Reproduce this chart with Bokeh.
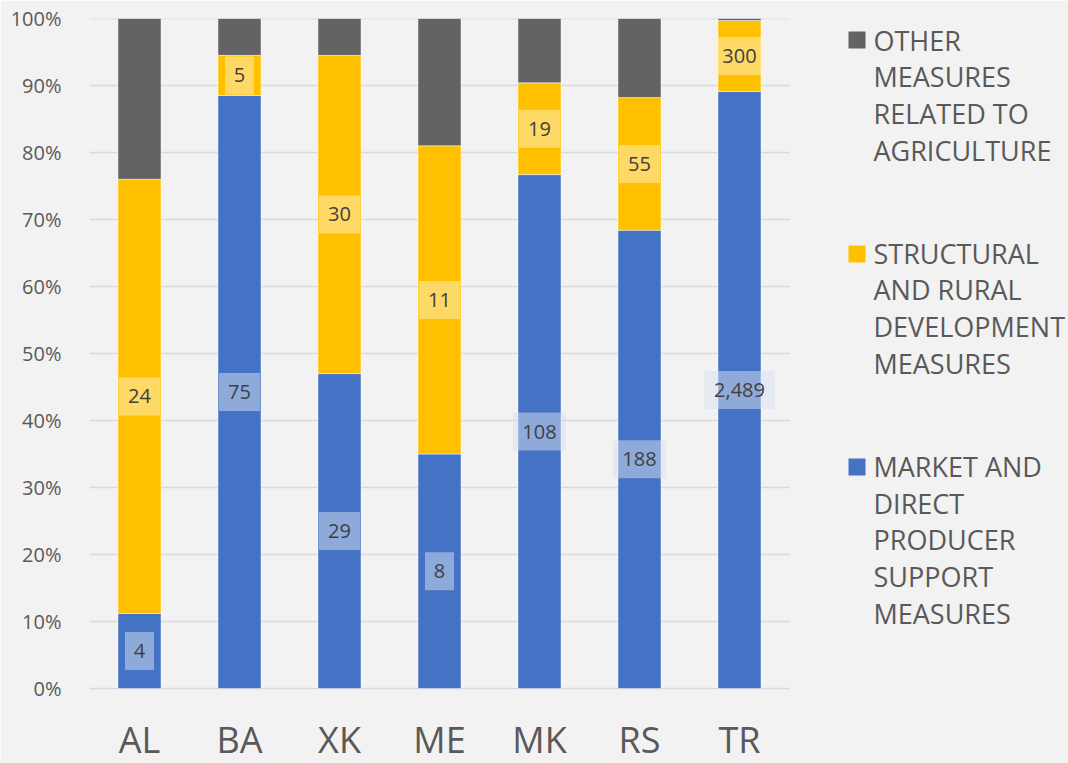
from bokeh.plotting import figure
from bokeh.models import ColumnDataSource, FixedTicker, PrintfTickFormatter, Range1d
from bokeh.core.properties import value
from bokeh.embed import file_html
from bokeh.resources import INLINE

# ---------------- data ----------------
countries = ["AL", "BA", "XK", "ME", "MK", "RS", "TR"]
market_share = [11.2, 88.5, 47.0, 35.0, 76.7, 68.4, 89.1]
structural_share = [64.8, 6.0, 47.5, 46.0, 13.7, 19.8, 10.6]
other_share = [24.0, 5.5, 5.5, 19.0, 9.6, 11.8, 0.3]
market_values = [4, 75, 29, 8, 108, 188, 2489]
structural_values = [24, 5, 30, 11, 19, 55, 300]
y_ticks = [0, 10, 20, 30, 40, 50, 60, 70, 80, 90, 100]
legend_other = ["OTHER", "MEASURES", "RELATED TO", "AGRICULTURE"]
legend_structural = ["STRUCTURAL", "AND RURAL", "DEVELOPMENT", "MEASURES"]
legend_market = ["MARKET AND", "DIRECT", "PRODUCER", "SUPPORT", "MEASURES"]

# ---------------- style / layout ----------------
BLUE, YELLOW, GREY = "#4472c4", "#ffc000", "#636363"
BG = "#f2f2f2"
FONT = "Open Sans"
TXT = "#595959"
W, H = 1068, 763
LEFT, TOP, ZERO_Y = 89, 18, 688          # page px: frame left/top and the 0% line
CAT_PX = 100                             # px per category
PX_PER_PCT = (ZERO_Y - TOP) / 100.0


def dx(px):
    return x_lo + (px - LEFT) / CAT_PX


def dy(py):
    return (ZERO_Y - py) / PX_PER_PCT


x_idx = list(range(len(countries)))
x_lo = -0.5
x_hi = x_lo + (W - LEFT) / CAT_PX

src = ColumnDataSource(dict(x=x_idx, market=market_share,
                            structural=structural_share, other=other_share))

p = figure(width=W, height=H, x_range=Range1d(x_lo, x_hi), y_range=Range1d(dy(H), 100),
           output_backend="svg", toolbar_location=None, x_axis_location=None,
           min_border_left=LEFT, min_border_right=0, min_border_top=TOP,
           min_border_bottom=0)
p.background_fill_color = BG
p.border_fill_color = BG
p.outline_line_color = None
p.grid.visible = False

# horizontal gridlines only across the category area
p.segment(x0=x_lo, x1=x_idx[-1] + 0.5, y0=y_ticks, y1=y_ticks,
          line_color="#d9d9d9", line_width=1.5)

yax = p.yaxis[0]
yax.ticker = FixedTicker(ticks=y_ticks)
yax.formatter = PrintfTickFormatter(format="%d%%")
yax.axis_line_color = None
yax.major_tick_line_color = None
yax.minor_tick_line_color = None
yax.major_label_text_color = TXT
yax.major_label_text_font = FONT
yax.major_label_text_font_size = "20px"
yax.major_label_standoff = 22

p.vbar_stack(["market", "structural", "other"], x="x", width=0.43, source=src,
             fill_color=[BLUE, YELLOW, GREY], line_color="white", line_alpha=0.45, line_width=1)

# category labels under the bars
p.text(x=x_idx, y=[dy(739)] * len(x_idx), text=countries, text_align="center",
       text_baseline="middle", text_font=value(FONT), text_font_size="36px",
       text_color=TXT)

# ---------------- data labels ----------------
def box_width(s):
    return 12 * sum(1 for c in s if c.isdigit()) + 5 * s.count(",") + 17

m_txt = [f"{v:,}" for v in market_values]
s_txt = [f"{v:,}" for v in structural_values]
m_y = [m / 2 for m in market_share]
s_y = [m + s / 2 for m, s in zip(market_share, structural_share)]

lab_m = ColumnDataSource(dict(x=x_idx, y=m_y, t=m_txt, w=[box_width(t) for t in m_txt]))
lab_s = ColumnDataSource(dict(x=x_idx, y=s_y, t=s_txt, w=[box_width(t) for t in s_txt]))

p.rect(x="x", y="y", width="w", height=38, width_units="screen", height_units="screen",
       source=lab_m, fill_color="#d8e2f2", fill_alpha=0.5, line_color=None)
p.rect(x="x", y="y", width="w", height=38, width_units="screen", height_units="screen",
       source=lab_s, fill_color="#fff2cc", fill_alpha=0.5, line_color=None)
for s in (lab_m, lab_s):
    p.text(x="x", y="y", text="t", source=s, text_align="center", text_baseline="middle",
           text_font=value(FONT), text_font_size="20px", text_color="#404040")

# ---------------- legend (placed in page px, converted to data coords) ----------------
LINE_H = 36.7
# (lines, colour, square centre y, first text line centre y)
entries = [(legend_other, GREY, 39.5, 39.5),
           (legend_structural, YELLOW, 253.5, 252.5),
           (legend_market, BLUE, 466.5, 466)]
sq_x, sq_y, sq_c, tx, ty, tt = [], [], [], [], [], []
for lines, col, yc, yt in entries:
    sq_x.append(dx(856.5))
    sq_y.append(dy(yc))
    sq_c.append(col)
    for i, ln in enumerate(lines):
        tx.append(dx(873))
        ty.append(dy(yt + i * LINE_H))
        tt.append(ln)
p.rect(x=sq_x, y=sq_y, width=17, height=17, width_units="screen", height_units="screen",
       fill_color=sq_c, line_color=None)
p.text(x=tx, y=ty, text=tt, text_align="left", text_baseline="middle",
       text_font=value(FONT), text_font_size="27px", text_color=TXT)

open("out.html", "w").write(file_html(p, INLINE))
